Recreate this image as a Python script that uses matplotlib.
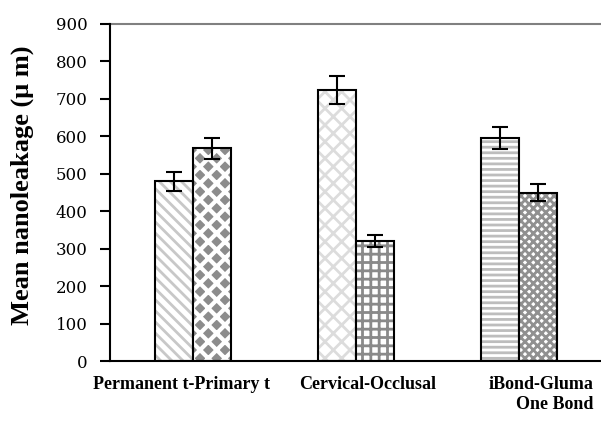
import matplotlib.pyplot as plt
import numpy as np

groups = ['Permanent t-Primary t', 'Cervical-Occlusal', 'iBond-Gluma\nOne Bond']
left_vals = [480, 724, 596]
left_err = [25, 37, 30]
right_vals = [568, 320, 450]
right_err = [28, 16, 22]

# (face, hatch colour, hatch, hatch linewidth)
left_style = [('white', '#c8c8c8', '\\\\\\', 2.0),
              ('white', '#dcdcdc', 'xx', 2.0),
              ('white', '#bdbdbd', '---', 2.0)]
right_style = [('#8c8c8c', 'white', 'xx', 3.0),
               ('white', '#8a8a8a', '++', 2.0),
               ('white', '#909090', 'xxxx', 2.0)]

fig = plt.figure(figsize=(6.01, 4.30), dpi=100)
ax = fig.add_axes([110 / 601, 69 / 430, 491 / 601, 337 / 430])

x = np.arange(len(groups))
w = 0.232

for i in range(len(groups)):
    for xpos, val, err, st in [(x[i] - w / 2, left_vals[i], left_err[i], left_style[i]),
                               (x[i] + w / 2, right_vals[i], right_err[i], right_style[i])]:
        face, hc, h, hlw = st
        with plt.rc_context({'hatch.linewidth': hlw}):
            ax.bar(xpos, val, w, color=face, edgecolor=hc, hatch=h, linewidth=0)
        ax.bar(xpos, val, w, fill=False, edgecolor='black', linewidth=1.5)
        ax.errorbar(xpos, val, yerr=err, color='black', capsize=6, elinewidth=1.5, capthick=1.5)

ax.set_xlim(-0.506, 2.5)
ax.set_ylim(0, 900)
ax.set_yticks(range(0, 901, 100))
ax.set_yticklabels([str(v) for v in range(0, 901, 100)], family='DejaVu Serif', fontsize=12)
ax.axhline(900, color='#808080', lw=1.5, clip_on=False)

# category labels, nudged sideways like the original
ax.set_xticks(x)
ax.set_xticklabels([])
for xi, name, dx in zip(x, groups, [-0.067, 0.073, 0.134]):
    ax.text(xi + dx, -0.045, name, transform=ax.get_xaxis_transform(), ha='center', va='top',
            multialignment='right', family='Liberation Serif', fontweight='bold', fontsize=13)
ax.tick_params(axis='x', length=0)
ax.tick_params(axis='y', direction='out', length=7, width=1.5, pad=9)

for s in ['top', 'right']:
    ax.spines[s].set_visible(False)
for s in ['left', 'bottom']:
    ax.spines[s].set_linewidth(1.5)

ax.set_ylabel('Mean nanoleakage (\u03bc m)', family='Liberation Serif', fontweight='bold', fontsize=19)
ax.yaxis.set_label_coords(-0.155, 0.522)

fig.savefig('out.png', dpi=100)
